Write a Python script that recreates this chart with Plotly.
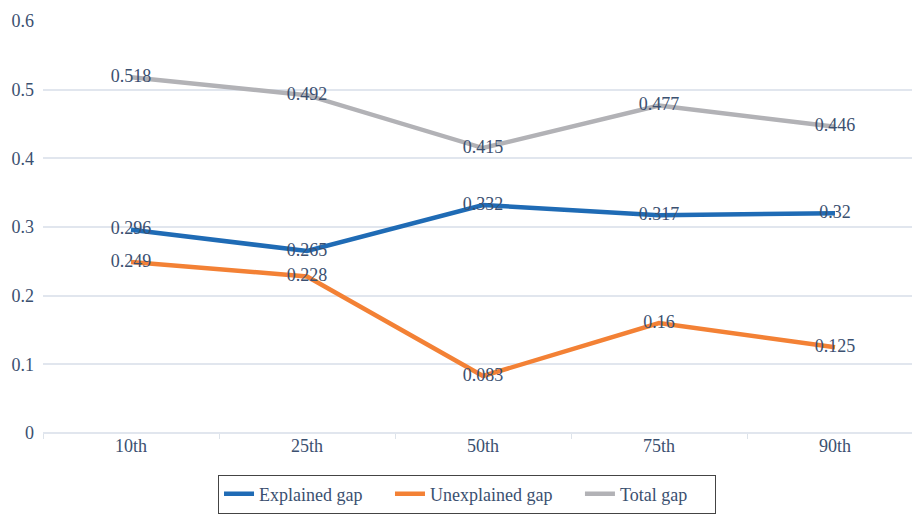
import plotly.graph_objects as go

categories = ["10th", "25th", "50th", "75th", "90th"]
explained = [0.296, 0.265, 0.332, 0.317, 0.32]
unexplained = [0.249, 0.228, 0.083, 0.16, 0.125]
total = [0.518, 0.492, 0.415, 0.477, 0.446]
y_ticks = [0, 0.1, 0.2, 0.3, 0.4, 0.5, 0.6]
y_tick_text = ["0", "0.1", "0.2", "0.3", "0.4", "0.5", "0.6"]

FONT = "Liberation Serif, Times New Roman, serif"
TXT = "#3b5070"

series = [
    ("Explained gap", explained, "#1f6bb5"),
    ("Unexplained gap", unexplained, "#f38135"),
    ("Total gap", total, "#b2b2b6"),
]

fig = go.Figure()
for name, vals, col in series:
    fig.add_trace(go.Scatter(
        x=categories, y=vals, name=name + "     ", mode="lines+text",
        line=dict(color=col, width=4.5),
        text=[f"{v:g}" for v in vals], textposition="middle center",
        textfont=dict(family=FONT, size=18, color=TXT),
        cliponaxis=False,
    ))

fig.update_layout(
    width=912, height=514,
    margin=dict(l=43, r=0, t=21, b=79),
    paper_bgcolor="white", plot_bgcolor="white",
    font=dict(family=FONT, size=18, color=TXT),
    showlegend=True,
    legend=dict(
        orientation="h", x=0.2014, xanchor="left", y=-0.101, yanchor="top",
        bordercolor="#444444", borderwidth=1, font=dict(family=FONT, size=18, color=TXT),
        itemwidth=30, tracegroupgap=0,
    ),
    xaxis=dict(
        type="category", range=[-0.5, 4.4375], showgrid=False,
        ticks="outside", tickson="boundaries", ticklen=5, tickcolor="#dde3ea",
        showline=False, zeroline=False,
        tickfont=dict(family=FONT, size=18, color=TXT),
    ),
    yaxis=dict(
        range=[0, 0.6], tickvals=y_ticks, ticktext=y_tick_text,
        showgrid=True, gridcolor="#e1e6ee", gridwidth=2,
        zeroline=True, zerolinecolor="#e1e6ee", zerolinewidth=2,
        ticklabelstandoff=8,
        tickfont=dict(family=FONT, size=18, color=TXT),
    ),
)

fig.write_html("out.html")
